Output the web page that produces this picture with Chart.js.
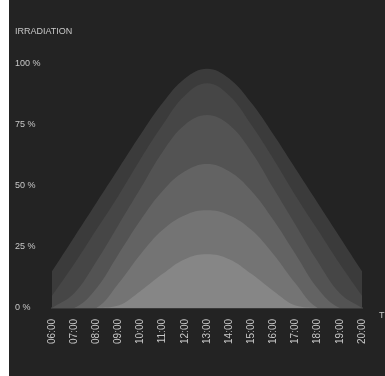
<!DOCTYPE html>
<html>
<head>
<meta charset="utf-8">
<script src="https://cdn.jsdelivr.net/npm/chart.js@4/dist/chart.umd.min.js"></script>
<style>
  html, body { margin: 0; padding: 0; background: #ffffff; }
  #wrap { position: absolute; left: 9px; top: 0; width: 376px; height: 376px; background: #232323; }
  canvas { display: block; }
</style>
</head>
<body>
<div id="wrap"><canvas id="c" width="376" height="376"></canvas></div>
<script>
// Hours of the day shown on the x axis
const hours = ['06:00','07:00','08:00','09:00','10:00','11:00','12:00','13:00',
               '14:00','15:00','16:00','17:00','18:00','19:00','20:00'];

// Irradiation levels (% of the maximum), outermost envelope to innermost core
const levelA = [15, 29, 43, 57, 71, 84, 94, 98, 94, 84, 71, 57, 43, 29, 15];
const levelB = [ 5, 18, 32, 46, 61, 75, 87, 92, 87, 75, 61, 46, 32, 18,  5];
const levelC = [ 0,  6, 19, 34, 49, 64, 75, 79, 75, 64, 49, 34, 19,  6,  0];
const levelD = [ 0,  0,  8, 22, 36, 48, 56, 59, 56, 48, 36, 22,  8,  0,  0];
const levelE = [ 0,  0,  0, 10, 22, 32, 38, 40, 38, 32, 22, 10,  0,  0,  0];
const levelF = [ 0,  0,  0,  1,  7, 14, 20, 22, 20, 14,  7,  1,  0,  0,  0];

// Y axis tick values
const yTicks = [0, 25, 50, 75, 100];

const layers = [
  { data: levelF, color: '#868686' },
  { data: levelE, color: '#747474' },
  { data: levelD, color: '#636363' },
  { data: levelC, color: '#535353' },
  { data: levelB, color: '#464646' },
  { data: levelA, color: '#3b3b3b' }
];

const tickFont = { family: 'Liberation Sans, Arial, sans-serif', size: 9 };

// Axis caption for the time axis, placed to the right of the plot
const timeCaption = {
  id: 'timeCaption',
  afterDraw(chart) {
    const { ctx, chartArea } = chart;
    ctx.save();
    ctx.font = '9px Liberation Sans, Arial, sans-serif';
    ctx.fillStyle = '#c8c8c8';
    ctx.textAlign = 'left';
    ctx.textBaseline = 'middle';
    ctx.fillText('TIME', chartArea.right + 17, chartArea.bottom + 8);
    ctx.restore();
  }
};

new Chart(document.getElementById('c'), {
  type: 'line',
  data: {
    labels: hours,
    datasets: layers.map((l, i) => ({
      label: 'level ' + i,
      data: l.data,
      backgroundColor: l.color,
      borderColor: l.color,
      borderWidth: 0,
      pointRadius: 0,
      fill: 'origin',
      tension: 0.4
    }))
  },
  options: {
    responsive: false,
    animation: false,
    layout: { padding: { left: 6, right: 23, top: 0, bottom: 0 } },
    plugins: {
      legend: { display: false },
      tooltip: { enabled: false },
      title: {
        display: true,
        text: 'IRRADIATION',
        align: 'start',
        color: '#c8c8c8',
        font: { family: 'Liberation Sans, Arial, sans-serif', size: 9, weight: 'normal' },
        padding: { top: 26, bottom: 27 }
      }
    },
    scales: {
      x: {
        offset: false,
        grid: { display: false, drawTicks: false },
        border: { display: true, color: '#383838', width: 2 },
        ticks: {
          color: '#c8c8c8',
          font: { family: 'Liberation Sans, Arial, sans-serif', size: 10 },
          minRotation: 90,
          maxRotation: 90,
          autoSkip: false,
          padding: 11
        },
        afterFit(s) { s.height = 68; }
      },
      y: {
        min: 0,
        max: 100,
        afterBuildTicks(s) { s.ticks = yTicks.map(v => ({ value: v })); },
        grid: { display: false, drawTicks: false },
        border: { display: false },
        ticks: {
          color: '#c8c8c8',
          font: tickFont,
          crossAlign: 'far',
          padding: 0,
          callback: v => v + ' %'
        },
        afterFit(s) { s.width = 37; }
      }
    }
  },
  plugins: [timeCaption]
});
</script>
</body>
</html>
